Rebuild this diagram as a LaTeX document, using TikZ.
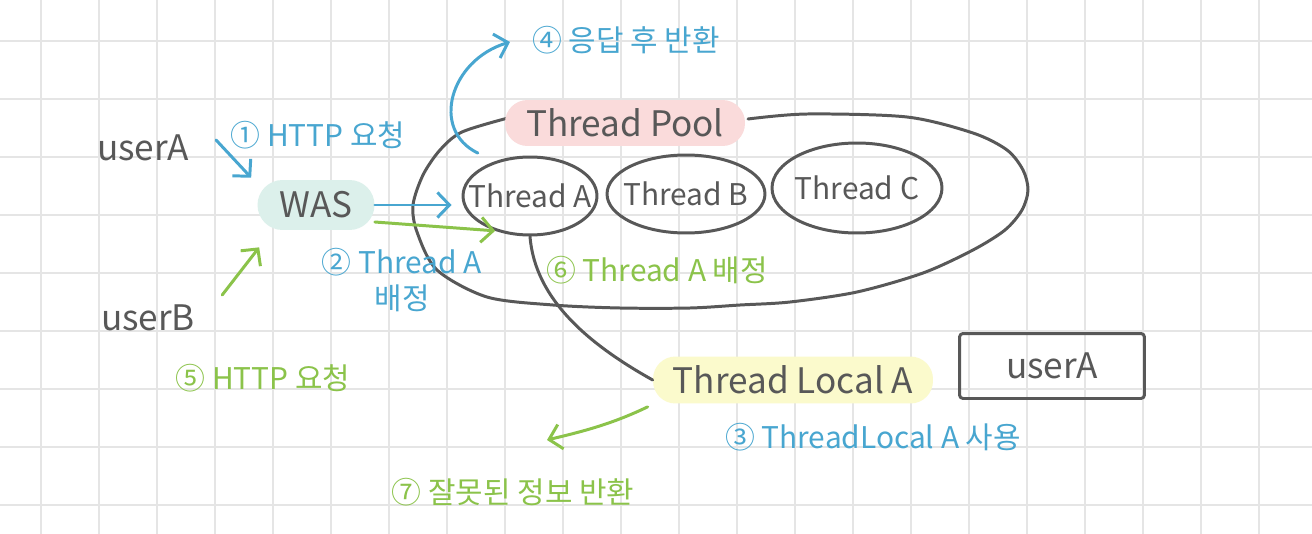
\documentclass[tikz,border=0pt]{standalone}
\usepackage{fontspec}
\setmainfont{Noto Sans CJK KR}
\usetikzlibrary{arrows.meta,shapes.geometric,positioning}
\definecolor{inkgray}{RGB}{88,88,88}
\definecolor{penblue}{RGB}{72,166,208}
\definecolor{pengreen}{RGB}{139,195,74}
\definecolor{gridgray}{RGB}{229,229,229}
\definecolor{rose}{RGB}{250,219,219}
\definecolor{mint}{RGB}{220,240,235}
\definecolor{lemon}{RGB}{251,250,204}

\begin{document}
\begin{tikzpicture}[x=0.02cm,y=-0.02cm,
    hand/.style={line width=1.7pt,line cap=round,line join=round},
    barb/.style={hand,-{Straight Barb[length=2.4mm,width=5mm]}},
    pill/.style={rounded corners=0.45cm,inner sep=0pt,minimum height=0.92cm,text=inkgray,font=\fontsize{20}{24}\selectfont},
    thread/.style={ellipse,draw=inkgray,hand,inner sep=0pt,text=inkgray,font=\fontsize{17}{20}\selectfont},
    who/.style={text=inkgray,font=\fontsize{20}{24}\selectfont}]
  \fill[white] (0,0) rectangle (1312,534);
  \useasboundingbox (0,0) rectangle (1312,534);
  \foreach \x in {41,99,...,1259} \draw[gridgray,line width=1.1pt] (\x,0) -- (\x,534);
  \foreach \y in {41,99,...,505} \draw[gridgray,line width=1.1pt] (0,\y) -- (1312,\y);

  \draw[inkgray,hand] plot[smooth] coordinates {(748,119) (807,114) (907,117) (973,133) (1007,150) (1023,170)
    (1028,190) (1022,210) (1005,230) (973,250) (923,273) (857,292) (790,302) (740,305) (690,308) (620,308)
    (553,305) (487,297) (437,270) (417,232) (413,205) (423,175) (440,150) (462,132) (508,118)};

  \node[pill,fill=rose,minimum width=4.8cm] (pool) at (625,123) {Thread Pool};
  \foreach \n/\w/\h/\x/\y in {A/2.68/1.56/530/196,B/3.16/1.56/686/194,C/3.4/1.8/857/188}
    \node[thread,minimum width=\w cm,minimum height=\h cm] (t\n) at (\x,\y) {\makebox[0pt]{Thread \n}};

  \node[pill,fill=mint,minimum width=2.34cm,minimum height=1cm,rounded corners=0.5cm] (was) at (316,205) {WAS};
  \node[pill,fill=lemon,minimum width=5.6cm,minimum height=0.94cm] (tlA) at (793,380) {Thread Local A};
  \node[who,draw=inkgray,hand,rounded corners=2pt,minimum width=3.7cm,minimum height=1.3cm] (box) at (1052,366) {userA};
  \node[who] (uA) at (143,148) {userA};
  \node[who] (uB) at (148,318) {userB};

  \foreach \t/\c/\x/\y [count=\i] in {
    ① HTTP 요청/penblue/318/135,
    {② Thread A\\배정}/penblue/402/280,
    ③ ThreadLocal A 사용/penblue/873/437,
    ④ 응답 후 반환/penblue/626/40,
    ⑤ HTTP 요청/pengreen/263/378,
    ⑥ Thread A 배정/pengreen/657/270,
    ⑦ 잘못된 정보 반환/pengreen/513/492}
    \node[text=\c,inner sep=0pt,align=center,font=\fontsize{17}{20}\selectfont] (s\i) at (\x,\y) {\t};

  \draw[barb,penblue] ([shift={(21,-8)}]uA.east) -- ([shift={(-6,-2)}]was.north west);
  \draw[barb,pengreen] ([shift={(21,-23)}]uB.east) -- ([shift={(2,17)}]was.south west);
  \draw[barb,penblue] (was.east) -- ([shift={(-10,9)}]tA.west);
  \draw[barb,pengreen] ([shift={(0,17)}]was.east) -- (tA.225);
  \draw[barb,penblue] ([shift={(-8,-12)}]tA.145) .. controls (430,130) and (450,60) .. ([shift={(-22,2)}]s4.west);
  \draw[inkgray,hand] (tA.south) .. controls (535,300) and (590,345) .. (tlA.west);
  \draw[barb,pengreen] ([shift={(-5,3)}]tlA.south west) .. controls (610,425) and (580,432) .. ([shift={(34,-52)}]s7.center);
\end{tikzpicture}
\end{document}
